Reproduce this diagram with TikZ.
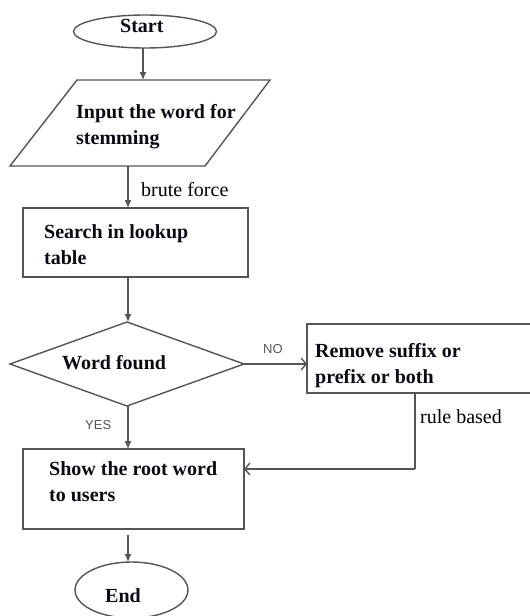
\documentclass[tikz,border=0pt]{standalone}
\usepackage{fontspec}
\setmainfont{Liberation Serif}
\newfontfamily\labsans{Liberation Sans}
\usetikzlibrary{shapes.geometric,arrows.meta}
\definecolor{linegray}{HTML}{555555}
\definecolor{textdark}{HTML}{0A0A14}
\definecolor{labgray}{HTML}{555555}
\tikzset{
  shapeline/.style={draw=linegray,line width=1.4pt,inner sep=0pt,outer sep=0pt},
  boxshape/.style={shapeline,rectangle},
  termshape/.style={shapeline,ellipse},
  ghost/.style={rectangle,inner sep=0pt,outer sep=0pt},
  txt/.style={anchor=base west,inner sep=0pt,text=textdark,font=\fontsize{20}{26}\selectfont\bfseries},
  lbl/.style={anchor=base west,inner sep=0pt,text=black,font=\fontsize{20}{26}\selectfont},
  sanslbl/.style={anchor=base west,inner sep=0pt,text=labgray,font=\labsans\fontsize{13}{15}\selectfont},
  flow/.style={draw=linegray,line width=1.4pt,-{Latex[length=8pt,width=7pt]}},
  openflow/.style={draw=linegray,line width=1.4pt,-{Straight Barb[length=5pt,width=12pt,line width=1.4pt]}},
  plainline/.style={draw=linegray,line width=1.4pt}
}
\begin{document}
\begin{tikzpicture}[x=1pt,y=-1pt]
\useasboundingbox (0,0) rectangle (530,616);
\fill[white] (0,0) rectangle (530,616);
\clip (0,0) rectangle (530,616);
% shapes
\node[termshape,minimum width=143pt,minimum height=33pt] (start) at (145,31.5) {};
\node[ghost,minimum width=260pt,minimum height=86pt] (inp) at (140,123) {};
\draw[shapeline,line join=miter] ([xshift=67pt]inp.north west) -- (inp.north east)
   -- ([xshift=-65pt]inp.south east) -- (inp.south west) -- cycle;
\node[boxshape,minimum width=225pt,minimum height=69pt] (srch) at (135.5,242.5) {};
\node[shapeline,diamond,minimum width=234pt,minimum height=84pt] (diam) at (127,364) {};
\node[boxshape,minimum width=240pt,minimum height=69pt] (rem) at (427,358.5) {};
\node[boxshape,minimum width=221pt,minimum height=80pt] (show) at (133.5,489) {};
\node[termshape,minimum width=113pt,minimum height=56pt] (end) at (131.5,590) {};
\coordinate (trunkA) at (143,0);
\coordinate (trunk) at (128,0);
\coordinate (rb) at (415,469);
% texts
\node[txt] (tstart) at (120,32) {Start};
\node[txt] (tin1) at (76,118) {Input the word for};
\node[txt] (tin2) at (76,144) {stemming};
\node[lbl] (tbf) at (141,196) {brute force};
\node[txt] (ts1) at (44,238) {Search in lookup};
\node[txt] (ts2) at (44,264) {table};
\node[txt] (tw) at (62,369) {Word found};
\node[sanslbl] (tno) at (263,353) {NO};
\node[txt] (tr1) at (315,357) {Remove suffix or};
\node[txt] (tr2) at (315,383) {prefix or both};
\node[lbl] (trb) at (420,423) {rule based};
\node[sanslbl] (tyes) at (85,429) {YES};
\node[txt] (tsh1) at (49,475) {Show the root word};
\node[txt] (tsh2) at (49,501) {to users};
\node[txt] (tend) at (105,602) {End};
% connectors
\draw[flow] (start.south -| trunkA) -- (inp.north -| trunkA);
\draw[flow] (inp.south -| trunk) -- (srch.north -| trunk);
\draw[flow] (srch.south -| trunk) -- (diam.north -| trunk);
\draw[openflow] (diam.east) -- (diam.east -| rem.west);
\draw[flow] (diam.south -| trunk) -- (show.north -| trunk);
\draw[plainline] (rem.south -| rb) -- (rb);
\draw[openflow] (rb) -- (rb -| show.east);
\draw[flow,shorten <=6pt] (show.south -| trunk) -- (end.north -| trunk);
\end{tikzpicture}
\end{document}
